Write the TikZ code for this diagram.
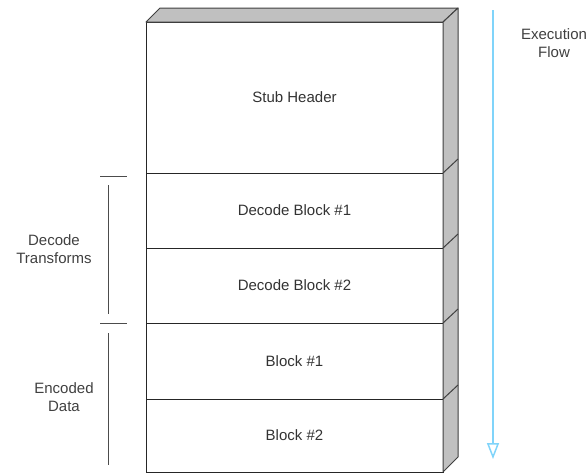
\documentclass[tikz,border=0pt]{standalone}
\usepackage{fontspec}
\setmainfont{Liberation Sans}
\usepackage{tikz}
\usepackage{xcolor}
\usetikzlibrary{positioning,arrows.meta}
\definecolor{flowblue}{HTML}{80D4FA}
\definecolor{facegray}{HTML}{C0C0C0}
\tikzset{
    layer-box/.style = {draw=black!85, fill=white, line width=1pt, rectangle, inner sep=0pt, outer sep=0pt, minimum width=297pt, font=\fontsize{15}{18}\selectfont, text=black!80},
    side-face/.style = {draw=black!75, fill=facegray, line width=1pt, line join=round},
    bracket-line/.style = {draw=black!70, line width=1pt},
    side-label/.style = {align=center, font=\fontsize{15}{18.5}\selectfont, text=black!75},
    flow-arrow/.style = {draw=flowblue, line width=1.5pt, -{Triangle[open, length=16pt, width=12pt]}},
}

\begin{document}
\begin{tikzpicture}[x=1pt, y=-1pt]
\useasboundingbox (0,0) rectangle (587,472);
% stack of blocks, top to bottom
\node [layer-box, minimum height=151pt, anchor=north west] (stub) at (146,22) {Stub Header};
\node [layer-box, minimum height=75pt, below=0pt of stub] (dec1) {Decode Block \#1};
\node [layer-box, minimum height=75pt, below=0pt of dec1] (dec2) {Decode Block \#2};
\node [layer-box, minimum height=76pt, below=0pt of dec2] (blk1) {Block \#1};
\node [layer-box, minimum height=73pt, below=0pt of blk1] (blk2) {Block \#2};
% top and right faces
\draw [side-face] (stub.north west) -- ++(14,-14) -- ++(298,0) -- (stub.north east) -- cycle;
\draw [side-face] (stub.north east) -- ++(15,-14) -- ++(0,449) -- (blk2.south east) -- cycle;
\foreach \b in {stub, dec1, dec2, blk1}
    \draw [side-face] (\b.south east) -- ++(15,-14);
% brackets on the left
\draw [bracket-line] (100,176) -- (127,176);
\draw [bracket-line] (108,185) -- (108,314);
\draw [bracket-line] (100,323) -- (127,323);
\draw [bracket-line] (108,333) -- (108,465);
\node [side-label] (transforms) at (54,249) {Decode\\Transforms};
\node [side-label] (encoded) at (64,397) {Encoded\\Data};
% execution flow
\coordinate (flow-top) at (493,10);
\coordinate (flow-end) at (493,459);
\draw [flow-arrow] (flow-top) -- (flow-end);
\node [side-label] (flow) at (554,43) {Execution\\Flow};
\end{tikzpicture}
\end{document}
